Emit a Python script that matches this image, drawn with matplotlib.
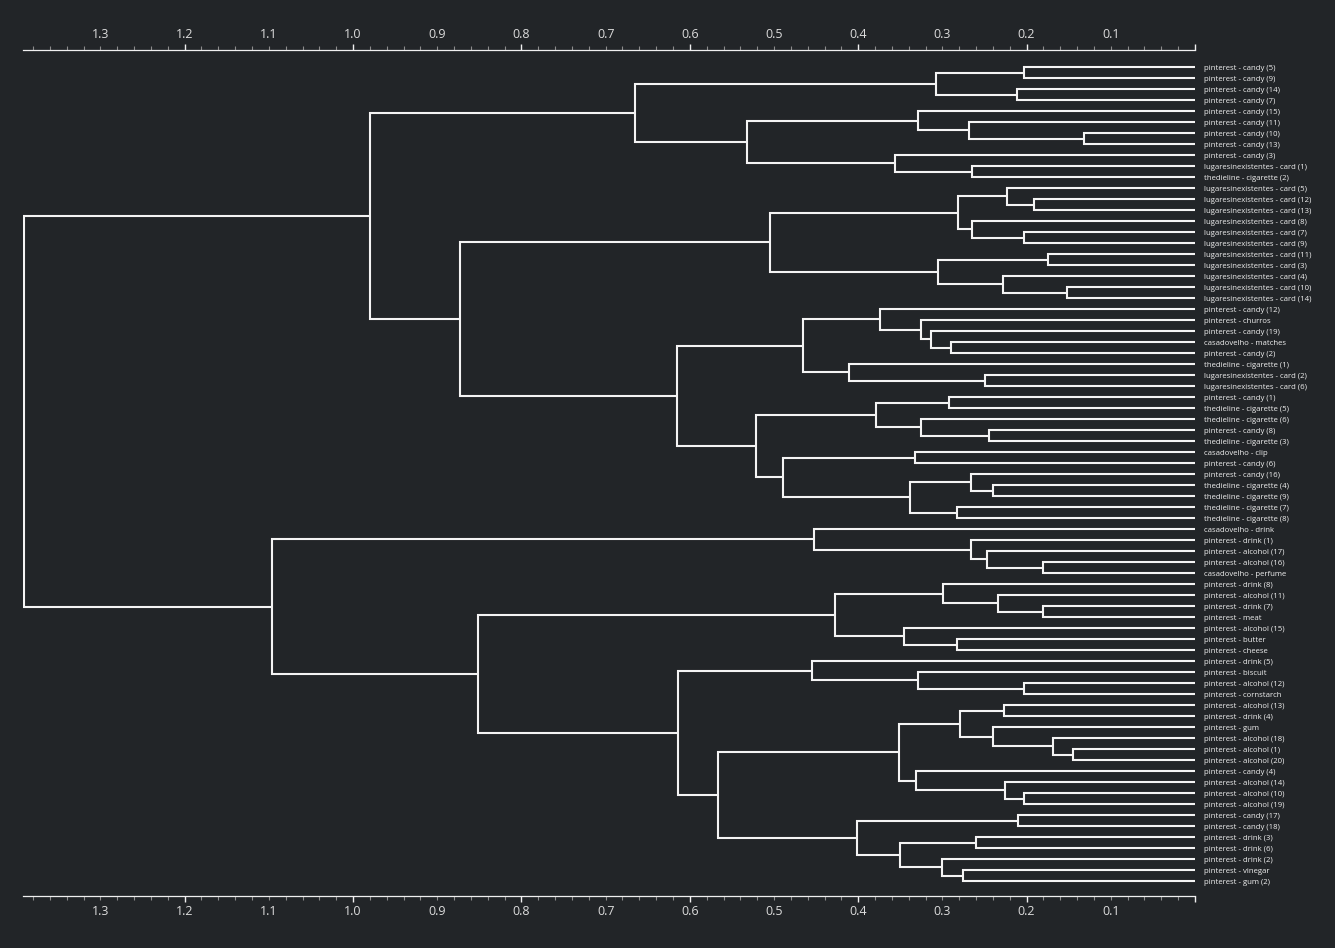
import matplotlib
matplotlib.use("Agg")
import matplotlib.pyplot as plt
from matplotlib.ticker import MultipleLocator, FuncFormatter

# leaf labels, top to bottom as drawn
labels = [
    "pinterest - candy (5)", "pinterest - candy (9)", "pinterest - candy (14)", "pinterest - candy (7)",
    "pinterest - candy (15)", "pinterest - candy (11)", "pinterest - candy (10)", "pinterest - candy (13)",
    "pinterest - candy (3)", "lugaresinexistentes - card (1)", "thedieline - cigarette (2)",
    "lugaresinexistentes - card (5)", "lugaresinexistentes - card (12)", "lugaresinexistentes - card (13)",
    "lugaresinexistentes - card (8)", "lugaresinexistentes - card (7)", "lugaresinexistentes - card (9)",
    "lugaresinexistentes - card (11)", "lugaresinexistentes - card (3)", "lugaresinexistentes - card (4)",
    "lugaresinexistentes - card (10)", "lugaresinexistentes - card (14)",
    "pinterest - candy (12)", "pinterest - churros", "pinterest - candy (19)", "casadovelho - matches",
    "pinterest - candy (2)", "thedieline - cigarette (1)", "lugaresinexistentes - card (2)",
    "lugaresinexistentes - card (6)", "pinterest - candy (1)", "thedieline - cigarette (5)",
    "thedieline - cigarette (6)", "pinterest - candy (8)", "thedieline - cigarette (3)", "casadovelho - clip",
    "pinterest - candy (6)", "pinterest - candy (16)", "thedieline - cigarette (4)", "thedieline - cigarette (9)",
    "thedieline - cigarette (7)", "thedieline - cigarette (8)",
    "casadovelho - drink", "pinterest - drink (1)", "pinterest - alcohol (17)", "pinterest - alcohol (16)",
    "casadovelho - perfume", "pinterest - drink (8)", "pinterest - alcohol (11)", "pinterest - drink (7)",
    "pinterest - meat", "pinterest - alcohol (15)", "pinterest - butter", "pinterest - cheese",
    "pinterest - drink (5)", "pinterest - biscuit", "pinterest - alcohol (12)", "pinterest - cornstarch",
    "pinterest - alcohol (13)", "pinterest - drink (4)", "pinterest - gum", "pinterest - alcohol (18)",
    "pinterest - alcohol (1)", "pinterest - alcohol (20)", "pinterest - candy (4)", "pinterest - alcohol (14)",
    "pinterest - alcohol (10)", "pinterest - alcohol (19)", "pinterest - candy (17)", "pinterest - candy (18)",
    "pinterest - drink (3)", "pinterest - drink (6)", "pinterest - drink (2)", "pinterest - vinegar",
    "pinterest - gum (2)",
]

# linkage: merge k joins merge_a[k] and merge_b[k] into node 75+k at merge_h[k]
merge_a = [0, 2, 75, 6, 5, 4, 9, 8, 80, 77,
           12, 11, 15, 14, 86, 17, 20, 19, 90, 89,
           25, 24, 23, 22, 28, 27, 98,
           30, 33, 32, 102, 35, 38, 37, 40, 108, 106, 105, 101, 94, 84,
           45, 44, 43, 42, 49, 48, 47, 52, 51, 122,
           56, 55, 54, 58, 62, 61, 60, 129, 66, 65, 64, 133,
           68, 70, 73, 72, 139, 138, 137, 128, 125, 119, 115]
merge_b = [1, 3, 76, 7, 78, 79, 10, 81, 82, 83,
           13, 85, 16, 87, 88, 18, 21, 91, 92, 93,
           26, 95, 96, 97, 29, 99, 100,
           31, 34, 103, 104, 36, 39, 107, 41, 109, 110, 111, 112, 113, 114,
           46, 116, 117, 118, 50, 120, 121, 53, 123, 124,
           57, 126, 127, 59, 63, 130, 131, 132, 67, 134, 135, 136,
           69, 71, 74, 140, 141, 142, 143, 144, 145, 146, 147]
merge_h = [0.203, 0.211, 0.308, 0.132, 0.269, 0.329, 0.265, 0.356, 0.532, 0.665,
           0.191, 0.223, 0.203, 0.265, 0.282, 0.175, 0.152, 0.228, 0.305, 0.505,
           0.290, 0.314, 0.326, 0.374, 0.249, 0.411, 0.466,
           0.292, 0.245, 0.325, 0.379, 0.332, 0.240, 0.266, 0.283, 0.339, 0.489, 0.521, 0.615, 0.873, 0.980,
           0.181, 0.247, 0.266, 0.452, 0.181, 0.234, 0.299, 0.283, 0.346, 0.427,
           0.203, 0.329, 0.455, 0.227, 0.145, 0.169, 0.240, 0.279, 0.203, 0.226, 0.331, 0.351,
           0.210, 0.260, 0.275, 0.300, 0.350, 0.402, 0.566, 0.614, 0.851, 1.096, 1.391]

BG = "#222528"
LINE = "#f4f4f4"

plt.rcParams["font.family"] = ["Open Sans", "DejaVu Sans"]

fig = plt.figure(figsize=(13.35, 9.48), dpi=100, facecolor=BG)
ax = fig.add_axes([23 / 1335, 1 - 896 / 948, (1195 - 23) / 1335, (896 - 50) / 948])
ax.set_facecolor(BG)

n = len(labels)
pos = {i: float(i) for i in range(n)}
hgt = {i: 0.0 for i in range(n)}
for k, (a, b, h) in enumerate(zip(merge_a, merge_b, merge_h)):
    ax.plot([hgt[a], h, h, hgt[b]], [pos[a], pos[a], pos[b], pos[b]],
            color=LINE, lw=1.5, solid_joinstyle="miter", solid_capstyle="butt")
    pos[n + k] = (pos[a] + pos[b]) / 2
    hgt[n + k] = h

ax.set_xlim(1.392, 0)
ax.set_ylim(n - 1 + 15 / 11, -17 / 11)

# leaf labels on the right
ax.set_yticks(range(n))
ax.set_yticklabels(labels, fontsize=5.6, color="#f0f0f0")
ax.yaxis.tick_right()
ax.tick_params(axis="y", length=0, pad=6.5)

# distance axis top and bottom
ax.xaxis.set_ticks_position("both")
ax.xaxis.set_major_locator(MultipleLocator(0.2))
ax.xaxis.set_minor_locator(MultipleLocator(0.02))


def major_fmt(x, p):
    return "" if abs(x) < 1e-9 else f"{x:.1f}"


def minor_fmt(x, p):
    t = x * 10
    if abs(t - round(t)) < 1e-6 and round(t) % 2 == 1:
        return f"{x:.1f}"
    return ""


ax.xaxis.set_major_formatter(FuncFormatter(major_fmt))
ax.xaxis.set_minor_formatter(FuncFormatter(minor_fmt))
ax.tick_params(axis="x", which="major", direction="out", length=4.3, width=1.0,
               color="#f0f0f0", labelcolor="#dcdcdc", labelsize=9, pad=2.2,
               labeltop=True, labelbottom=True)
ax.tick_params(axis="x", which="minor", direction="out", length=2.6, width=0.8,
               color="#8c8c8c", labelcolor="#dcdcdc", labelsize=9, pad=3.9,
               labeltop=True, labelbottom=True)

for side in ["left", "right"]:
    ax.spines[side].set_visible(False)
for side in ["top", "bottom"]:
    ax.spines[side].set_color("#f0f0f0")
    ax.spines[side].set_linewidth(0.9)

fig.savefig("out.png", dpi=100, facecolor=BG)
